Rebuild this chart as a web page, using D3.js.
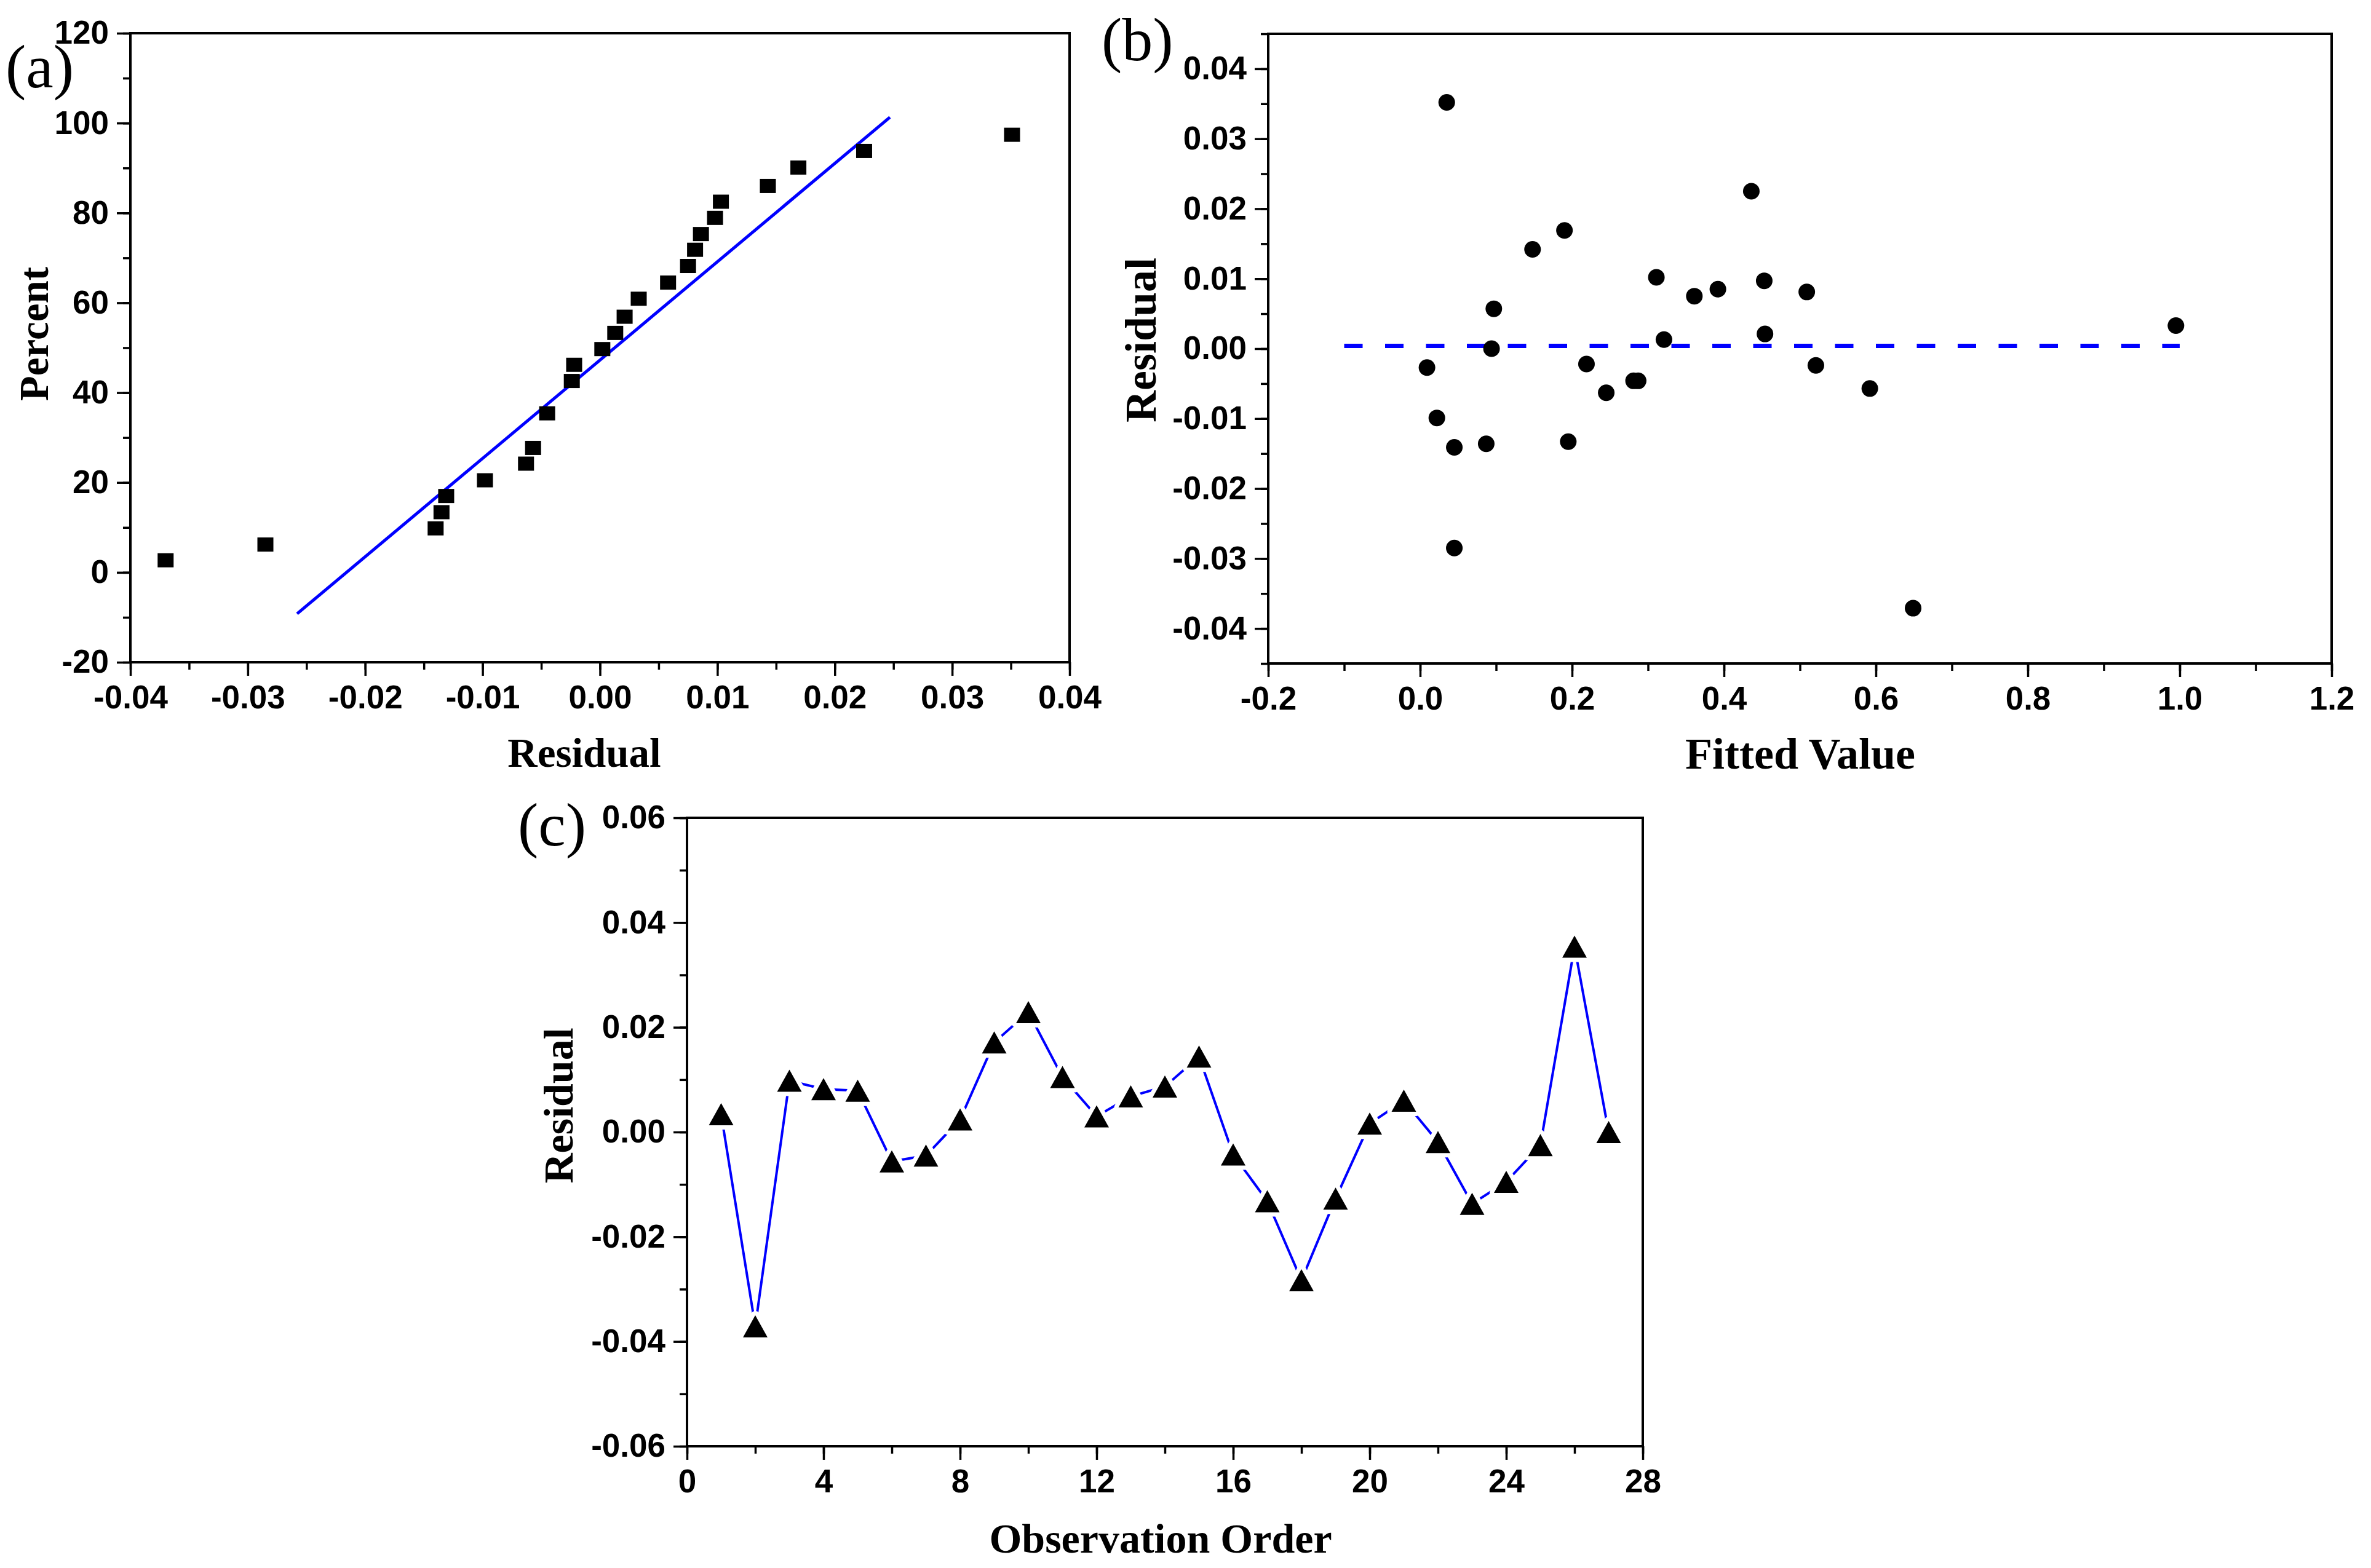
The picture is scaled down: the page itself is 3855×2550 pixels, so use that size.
<!DOCTYPE html>
<html>
<head>
<meta charset="utf-8">
<script src="https://cdn.jsdelivr.net/npm/d3@7"></script>
<style>
  body { margin: 0; background: #fff; }
  .tick text { font-family: "Liberation Sans", Arial, sans-serif; font-weight: bold; font-size: 53px; fill: #000; }
  .title { font-family: "Liberation Serif", "Times New Roman", serif; font-weight: bold; fill: #000; }
  .panel-label { font-family: "Liberation Serif", "Times New Roman", serif; font-size: 100px; fill: #000; }
</style>
</head>
<body>
<div id="chart"></div>
<script>
// (a) normal probability plot of residuals
const normResidual = [-0.0370, -0.0285, -0.0140, -0.0135, -0.0131, -0.0098, -0.0063, -0.0057, -0.0045,
    -0.0024, -0.0022, 0.0002, 0.0013, 0.0021, 0.0033, 0.0058, 0.0075, 0.0081, 0.0086, 0.0098,
    0.0103, 0.0143, 0.0169, 0.0225, 0.0351];
const normPercent = [2.7, 6.2, 9.8, 13.4, 17.0, 20.5, 24.2, 27.7, 35.4, 42.6, 46.2, 49.7, 53.3, 56.9,
    60.9, 64.5, 68.2, 71.8, 75.3, 78.9, 82.5, 86.0, 90.1, 93.8, 97.4];
const fitLineX = [-0.0258, 0.0247];
const fitLineY = [-9.2, 101.3];

// (b) residual vs fitted value
const fittedValue = [0.009, 0.022, 0.035, 0.045, 0.045, 0.087, 0.094, 0.097, 0.148, 0.190, 0.195, 0.219,
    0.245, 0.281, 0.287, 0.311, 0.321, 0.361, 0.392, 0.436, 0.453, 0.454, 0.509, 0.521, 0.592, 0.649, 0.995];
const fittedResidual = [-0.0027, -0.0099, 0.0352, -0.0141, -0.0285, -0.0136, 0.0000, 0.0057, 0.0142, 0.0169,
    -0.0133, -0.0022, -0.0063, -0.0046, -0.0046, 0.0102, 0.0013, 0.0075, 0.0085, 0.0225, 0.0097, 0.0021,
    0.0081, -0.0024, -0.0057, -0.0371, 0.0033];
const refLineX = [-0.1, 1.0];
const refLineY = 0.0004;

// (c) residual vs observation order
const obsOrder = d3.range(1, 28);
const obsResidual = [0.0034, -0.0371, 0.0098, 0.0082, 0.0079, -0.0056, -0.0045, 0.0024, 0.0171, 0.0229,
    0.0105, 0.0030, 0.0068, 0.0087, 0.0144, -0.0043, -0.0132, -0.0283, -0.0127, 0.0016, 0.0060, -0.0019,
    -0.0137, -0.0095, -0.0025, 0.0354, 0.0000];

// tick labels
const aXTicks = [-0.04, -0.03, -0.02, -0.01, 0, 0.01, 0.02, 0.03, 0.04];
const aYTicks = [-20, 0, 20, 40, 60, 80, 100, 120];
const bXTicks = [-0.2, 0, 0.2, 0.4, 0.6, 0.8, 1.0, 1.2];
const bYTicks = [-0.04, -0.03, -0.02, -0.01, 0, 0.01, 0.02, 0.03, 0.04];
const cXTicks = [0, 4, 8, 12, 16, 20, 24, 28];
const cYTicks = [-0.06, -0.04, -0.02, 0, 0.02, 0.04, 0.06];

const W = 3855, H = 2550;
const blue = "#0000ff";

const svg = d3.select("#chart").append("svg")
    .attr("width", W)
    .attr("height", H);

svg.append("rect").attr("width", W).attr("height", H).attr("fill", "#fff");

function fmt(spec) {
    const f = d3.format(spec);
    return d => f(d).replace("\u2212", "-");
}

function makePanel(p) {
    const x = d3.scaleLinear().domain(p.xDomain).range([p.left, p.right]);
    const y = d3.scaleLinear().domain(p.yDomain).range([p.bottom, p.top]);
    const g = svg.append("g");

    // minor ticks
    g.append("g")
        .attr("transform", `translate(0,${p.bottom})`)
        .call(d3.axisBottom(x).tickValues(p.xMinor).tickSize(12).tickFormat(""))
        .call(s => s.select(".domain").remove());
    g.append("g")
        .attr("transform", `translate(${p.left},0)`)
        .call(d3.axisLeft(y).tickValues(p.yMinor).tickSize(12).tickFormat(""))
        .call(s => s.select(".domain").remove());

    // major ticks + labels
    g.append("g")
        .attr("transform", `translate(0,${p.bottom})`)
        .call(d3.axisBottom(x).tickValues(p.xTicks).tickSize(22).tickPadding(15).tickFormat(p.xFormat))
        .call(s => s.select(".domain").remove());
    g.append("g")
        .attr("transform", `translate(${p.left},0)`)
        .call(d3.axisLeft(y).tickValues(p.yTicks).tickSize(22).tickPadding(13).tickFormat(p.yFormat))
        .call(s => s.select(".domain").remove());

    g.selectAll(".tick line").attr("stroke", "#000").attr("stroke-width", 3.5);

    // frame
    g.append("rect")
        .attr("x", p.left).attr("y", p.top)
        .attr("width", p.right - p.left).attr("height", p.bottom - p.top)
        .attr("fill", "none").attr("stroke", "#000").attr("stroke-width", 4);

    // axis titles
    g.append("text").attr("class", "title")
        .attr("x", p.xTitle[1]).attr("y", p.xTitle[2])
        .attr("text-anchor", "middle")
        .style("font-size", p.titleSize + "px")
        .text(p.xTitle[0]);
    g.append("text").attr("class", "title")
        .attr("transform", `translate(${p.yTitle[1]},${p.yTitle[2]}) rotate(-90)`)
        .attr("text-anchor", "middle")
        .style("font-size", p.titleSize + "px")
        .text(p.yTitle[0]);

    g.append("text").attr("class", "panel-label")
        .attr("x", p.label[1]).attr("y", p.label[2])
        .text(p.label[0]);

    return { x, y, g };
}

// ---------- panel (a)
const pa = makePanel({
    left: 212, right: 1739, top: 54, bottom: 1077,
    xDomain: [-0.04, 0.04], yDomain: [-20, 120],
    xTicks: aXTicks, yTicks: aYTicks,
    xMinor: d3.range(-0.04, 0.0401, 0.005), yMinor: d3.range(-20, 121, 10),
    xFormat: fmt(".2f"), yFormat: fmt("d"),
    titleSize: 67,
    xTitle: ["Residual", 950, 1247],
    yTitle: ["Percent", 78, 543],
    label: ["(a)", 9, 142]
});

pa.g.append("line")
    .attr("x1", pa.x(fitLineX[0])).attr("y1", pa.y(fitLineY[0]))
    .attr("x2", pa.x(fitLineX[1])).attr("y2", pa.y(fitLineY[1]))
    .attr("stroke", blue).attr("stroke-width", 5);

pa.g.append("g").selectAll("rect")
    .data(normResidual.map((r, i) => [r, normPercent[i]]))
    .enter()
    .append("rect")
    .attr("x", d => pa.x(d[0]) - 13)
    .attr("y", d => pa.y(d[1]) - 11.5)
    .attr("width", 26)
    .attr("height", 23)
    .attr("fill", "#000");

// ---------- panel (b)
const pb = makePanel({
    left: 2062, right: 3791, top: 55, bottom: 1079,
    xDomain: [-0.2, 1.2], yDomain: [-0.045, 0.045],
    xTicks: bXTicks, yTicks: bYTicks,
    xMinor: d3.range(-0.2, 1.201, 0.1), yMinor: d3.range(-0.045, 0.0451, 0.005),
    xFormat: fmt(".1f"), yFormat: fmt(".2f"),
    titleSize: 72,
    xTitle: ["Fitted Value", 2927, 1250],
    yTitle: ["Residual", 1879, 553],
    label: ["(b)", 1791, 98]
});

pb.g.append("line")
    .attr("x1", pb.x(refLineX[0])).attr("y1", pb.y(refLineY))
    .attr("x2", pb.x(refLineX[1])).attr("y2", pb.y(refLineY))
    .attr("stroke", blue).attr("stroke-width", 7)
    .attr("stroke-dasharray", "30 36.5");

pb.g.append("g").selectAll("circle")
    .data(fittedValue.map((f, i) => [f, fittedResidual[i]]))
    .enter()
    .append("circle")
    .attr("cx", d => pb.x(d[0]))
    .attr("cy", d => pb.y(d[1]))
    .attr("r", 13.5)
    .attr("fill", "#000");

// ---------- panel (c)
const pc = makePanel({
    left: 1117, right: 2671, top: 1330, bottom: 2352,
    xDomain: [0, 28], yDomain: [-0.06, 0.06],
    xTicks: cXTicks, yTicks: cYTicks,
    xMinor: d3.range(0, 29, 2), yMinor: d3.range(-0.06, 0.0601, 0.01),
    xFormat: fmt("d"), yFormat: fmt(".2f"),
    titleSize: 68,
    xTitle: ["Observation Order", 1887, 2525],
    yTitle: ["Residual", 931, 1798],
    label: ["(c)", 842, 1375]
});

const obsLine = d3.line()
    .x((d, i) => pc.x(obsOrder[i]))
    .y(d => pc.y(d));

pc.g.append("path")
    .datum(obsResidual)
    .attr("d", obsLine)
    .attr("fill", "none")
    .attr("stroke", blue)
    .attr("stroke-width", 4);

// triangles with a white rim so the line stops short of each symbol
pc.g.append("g").selectAll("path")
    .data(obsResidual)
    .enter()
    .append("path")
    .attr("d", "M0,-18L20,18L-20,18Z")
    .attr("transform", (d, i) => `translate(${pc.x(obsOrder[i])},${pc.y(d)})`)
    .attr("fill", "#000")
    .attr("stroke", "#fff")
    .attr("stroke-width", 14)
    .attr("stroke-linejoin", "round")
    .attr("paint-order", "stroke");
</script>
</body>
</html>
